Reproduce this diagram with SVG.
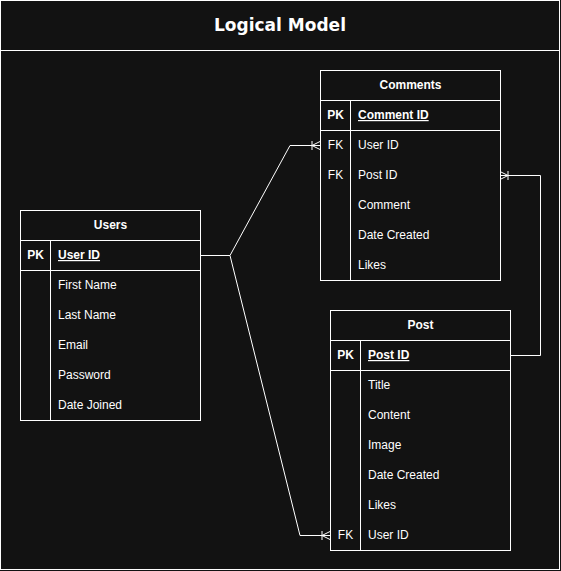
<svg xmlns="http://www.w3.org/2000/svg" width="561" height="571" viewBox="0 0 561 571">
<defs>
<style>
.bx{fill:#121212;stroke:#ffffff;stroke-width:1}
.ln{stroke:#ffffff;stroke-width:1;fill:none}
.t{font-family:"Liberation Sans",Arial,sans-serif;font-size:12px;fill:#ffffff}
.b{font-weight:bold}
.u{text-decoration:underline}
.h{text-anchor:middle;font-weight:bold}
.title{font-family:"DejaVu Sans",Verdana,sans-serif;font-size:17px;font-weight:bold;fill:#ffffff;text-anchor:middle}
</style>
<marker id="crow" viewBox="0 0 12 12" markerWidth="12" markerHeight="12" refX="12" refY="6" orient="auto" markerUnits="userSpaceOnUse">
<path d="M12,2 L4,6 L12,10 M4,6 L12,6 M4,1.5 L4,10.5" fill="none" stroke="#ffffff" stroke-width="1"/>
</marker>
</defs>
<rect x="0" y="0" width="561" height="571" fill="#121212"/>
<g id="frame">
<rect x="0.5" y="0.5" width="559" height="569" class="bx"/>
<line x1="0.5" y1="50.5" x2="559.5" y2="50.5" class="ln"/>
<text x="280" y="31" class="title">Logical Model</text>
</g>
<g id="connectors">
<polyline points="200,255.5 230,255.5 290,145.5 320,145.5" class="ln" marker-end="url(#crow)"/>
<polyline points="230,255.5 300,535.5 330,535.5" class="ln" marker-end="url(#crow)"/>
<polyline points="510,355.5 540.5,355.5 540.5,175.5 500,175.5" class="ln" marker-end="url(#crow)"/>
</g>
<g id="users">
<rect x="20.5" y="210.5" width="180" height="210" class="bx"/>
<line x1="20.5" y1="240.5" x2="200.5" y2="240.5" class="ln"/>
<line x1="20.5" y1="270.5" x2="200.5" y2="270.5" class="ln"/>
<line x1="50.5" y1="240.5" x2="50.5" y2="420.5" class="ln"/>
<text x="110.5" y="229" class="t h">Users</text>
<text x="35.5" y="259" class="t h">PK</text>
<text x="58" y="259" class="t b u">User ID</text>
<text x="58" y="289" class="t">First Name</text>
<text x="58" y="319" class="t">Last Name</text>
<text x="58" y="349" class="t">Email</text>
<text x="58" y="379" class="t">Password</text>
<text x="58" y="409" class="t">Date Joined</text>
</g>
<g id="comments">
<rect x="320.5" y="70.5" width="180" height="210" class="bx"/>
<line x1="320.5" y1="100.5" x2="500.5" y2="100.5" class="ln"/>
<line x1="320.5" y1="130.5" x2="500.5" y2="130.5" class="ln"/>
<line x1="350.5" y1="100.5" x2="350.5" y2="280.5" class="ln"/>
<text x="410.5" y="89" class="t h">Comments</text>
<text x="335.5" y="119" class="t h">PK</text>
<text x="358" y="119" class="t b u">Comment ID</text>
<text x="335.5" y="149" class="t" text-anchor="middle">FK</text>
<text x="358" y="149" class="t">User ID</text>
<text x="335.5" y="179" class="t" text-anchor="middle">FK</text>
<text x="358" y="179" class="t">Post ID</text>
<text x="358" y="209" class="t">Comment</text>
<text x="358" y="239" class="t">Date Created</text>
<text x="358" y="269" class="t">Likes</text>
</g>
<g id="post">
<rect x="330.5" y="310.5" width="180" height="240" class="bx"/>
<line x1="330.5" y1="340.5" x2="510.5" y2="340.5" class="ln"/>
<line x1="330.5" y1="370.5" x2="510.5" y2="370.5" class="ln"/>
<line x1="360.5" y1="340.5" x2="360.5" y2="550.5" class="ln"/>
<text x="420.5" y="329" class="t h">Post</text>
<text x="345.5" y="359" class="t h">PK</text>
<text x="368" y="359" class="t b u">Post ID</text>
<text x="368" y="389" class="t">Title</text>
<text x="368" y="419" class="t">Content</text>
<text x="368" y="449" class="t">Image</text>
<text x="368" y="479" class="t">Date Created</text>
<text x="368" y="509" class="t">Likes</text>
<text x="345.5" y="539" class="t" text-anchor="middle">FK</text>
<text x="368" y="539" class="t">User ID</text>
</g>
</svg>
